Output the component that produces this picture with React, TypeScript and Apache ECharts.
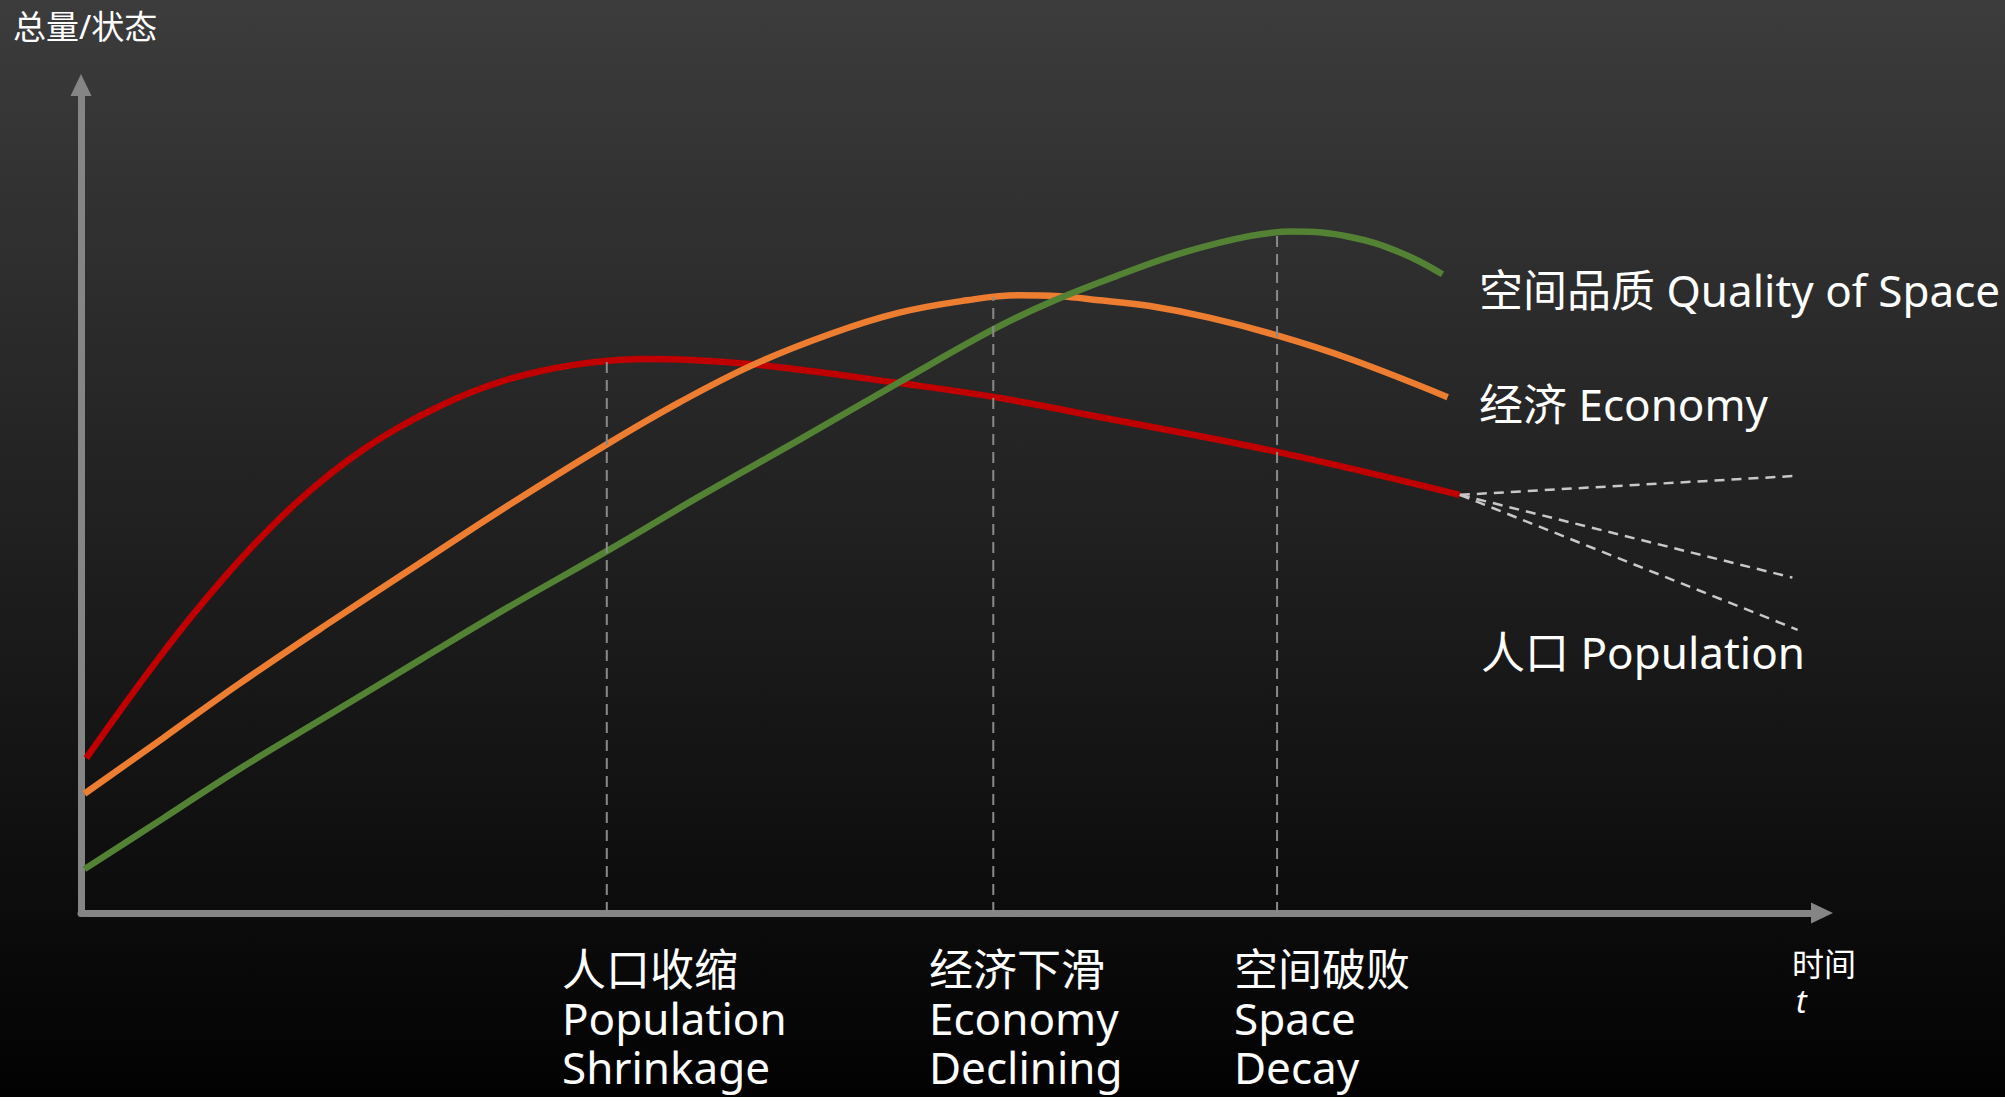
import React, { useEffect, useRef } from 'react';
import * as echarts from 'echarts';

// time t (0-100) vs total/state (0-100)
const populationCurve: [number, number][] = [
  [0.3, 18.7], [2.3, 24.6], [4.3, 30.3], [6.3, 35.7], [8.3, 40.7], [10.3, 45.3],
  [12.3, 49.4], [14.3, 53.0], [16.3, 56.1], [18.3, 58.7], [20.3, 60.9], [22.3, 62.8],
  [24.3, 64.3], [26.3, 65.4], [28.3, 66.2], [30.3, 66.7], [32.3, 66.9], [35.0, 66.8],
  [39.4, 66.1], [47.0, 64.0], [52.5, 62.3], [58.5, 59.9], [68.7, 55.7], [79.2, 50.5],
];
const economyCurve: [number, number][] = [
  [0.2, 14.4], [4.7, 21.1], [9.1, 27.7], [14.3, 35.1], [19.5, 42.3], [24.6, 49.3],
  [30.2, 56.6], [34.4, 61.7], [38.6, 66.2], [43.0, 69.9], [47.0, 72.5], [50.9, 74.0],
  [53.8, 74.6], [56.2, 74.5], [58.5, 74.0], [61.4, 73.3], [64.8, 71.9], [68.7, 69.75],
  [72.9, 66.9], [78.5, 62.3],
];
const spaceQualityCurve: [number, number][] = [
  [0.2, 5.3], [4.7, 11.4], [9.1, 17.4], [14.3, 24.0], [19.5, 30.6], [24.6, 37.0],
  [30.2, 43.7], [35.6, 50.4], [41.3, 57.2], [47.0, 64.1], [52.5, 70.6], [55.7, 73.8],
  [59.5, 76.95], [63.3, 79.75], [67.1, 81.75], [69.6, 82.3], [72.9, 81.65], [75.8, 79.75],
  [78.2, 77.15],
];
// key moments: population shrinkage, economy declining, space decay
const keyMomentTimes = [30.2, 52.4, 68.7];
const keyMomentTops = [66.6, 74.4, 82.0];
const keyMomentLabels = [
  '人口收缩\nPopulation\nShrinkage',
  '经济下滑\nEconomy\nDeclining',
  '空间破败\nSpace\nDecay',
];
// future population scenarios (dashed)
const populationEnd: [number, number] = [79.2, 50.5];
const scenarioEnds: [number, number][] = [[98.6, 52.8], [98.3, 40.5], [98.6, 34.2]];

const seriesNames = ['人口 Population', '经济 Economy', '空间品质 Quality of Space'];
const seriesColors = ['#C00000', '#ED7D31', '#548235'];

const FONT = '"Noto Sans", "Noto Sans CJK SC", sans-serif';

function buildOption(): echarts.EChartsCoreOption {
  const curves = [populationCurve, economyCurve, spaceQualityCurve];
  const series: any[] = curves.map((d, i) => ({
    name: seriesNames[i],
    type: 'line',
    data: d,
    smooth: 0.4,
    showSymbol: false,
    silent: true,
    z: 3 + i,
    lineStyle: { color: seriesColors[i], width: 6.5, cap: 'butt' },
  }));
  keyMomentTimes.forEach((t, i) => {
    series.push({
      type: 'line',
      data: [[t, 0], [t, keyMomentTops[i]]],
      showSymbol: false,
      silent: true,
      z: 8,
      lineStyle: { color: '#8a8a8a', width: 2, type: [11, 7] },
    });
  });
  scenarioEnds.forEach((e) => {
    series.push({
      type: 'line',
      data: [populationEnd, e],
      showSymbol: false,
      silent: true,
      z: 8,
      lineStyle: { color: '#c8c8c8', width: 2.5, type: [10, 7] },
    });
  });

  const bottomLabelX = [562, 929, 1234];
  const graphic: any[] = [
    { type: 'text', x: 13, y: 26, style: { text: '总量/状态', fill: '#fff', fontSize: 33, fontFamily: FONT, align: 'left', verticalAlign: 'middle' } },
    { type: 'text', x: 1792, y: 963, style: { text: '时间', fill: '#fff', fontSize: 32, fontFamily: FONT, align: 'left', verticalAlign: 'middle' } },
    { type: 'text', x: 1796, y: 1000, style: { text: 't', fill: '#fff', fontSize: 32, fontStyle: 'italic', fontFamily: FONT, align: 'left', verticalAlign: 'middle' } },
    { type: 'text', x: 1479, y: 290, style: { text: seriesNames[2], fill: '#fff', fontSize: 44, fontFamily: FONT, align: 'left', verticalAlign: 'middle' } },
    { type: 'text', x: 1479, y: 404, style: { text: seriesNames[1], fill: '#fff', fontSize: 44, fontFamily: FONT, align: 'left', verticalAlign: 'middle' } },
    { type: 'text', x: 1481, y: 652, style: { text: seriesNames[0], fill: '#fff', fontSize: 44, fontFamily: FONT, align: 'left', verticalAlign: 'middle' } },
  ];
  keyMomentLabels.forEach((txt, i) => {
    graphic.push({
      type: 'text', x: bottomLabelX[i], y: 944.5,
      style: { text: txt, fill: '#fff', fontSize: 44, lineHeight: 49, fontFamily: FONT, align: 'left', verticalAlign: 'top' },
    });
  });

  const axisCommon = {
    type: 'value',
    min: 0,
    max: 100,
    axisLine: {
      show: true,
      onZero: true,
      symbol: ['none', 'triangle'],
      symbolSize: [21, 22],
      lineStyle: { color: '#858585', width: 7 },
    },
    axisTick: { show: false },
    axisLabel: { show: false },
    splitLine: { show: false },
  };

  return {
    animation: false,
    backgroundColor: 'transparent',
    grid: { left: 81, right: 183, top: 85, bottom: 184 },
    xAxis: { ...axisCommon },
    yAxis: { ...axisCommon },
    series,
    graphic,
  };
}

export default function App() {
  const ref = useRef<HTMLDivElement>(null);
  useEffect(() => {
    if (!ref.current) return;
    const chart = echarts.init(ref.current, undefined, { renderer: 'svg' });
    chart.setOption(buildOption());
    return () => chart.dispose();
  }, []);
  return (
    <div
      ref={ref}
      style={{
        position: 'fixed',
        left: 0,
        top: 0,
        width: 2005,
        height: 1097,
        background: 'linear-gradient(to bottom, #3c3c3c 0%, #020202 100%)',
      }}
    />
  );
}
